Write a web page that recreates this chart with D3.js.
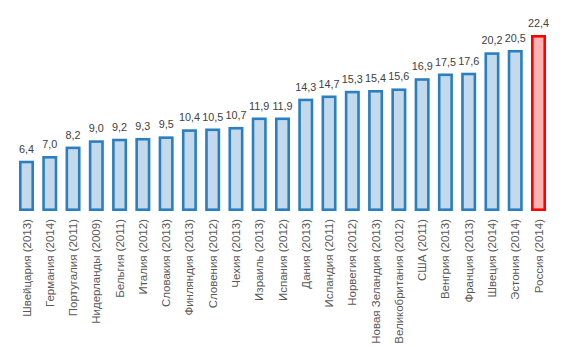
<!DOCTYPE html>
<html><head><meta charset="utf-8">
<script src="https://cdn.jsdelivr.net/npm/d3@7"></script>
<style>body{margin:0;background:#fff;}svg{display:block;}</style>
</head><body>
<svg id="c" width="565" height="347"></svg>
<script>
const categories = ["Швейцария (2013)","Германия (2014)","Португалия (2011)","Нидерланды (2009)","Бельгия (2011)","Италия (2012)","Словакия (2013)","Финляндия (2013)","Словения (2012)","Чехия (2013)","Израиль (2013)","Испания (2012)","Дания (2013)","Исландия (2011)","Норвегия (2012)","Новая Зеландия (2013)","Великобритания (2012)","США (2011)","Венгрия (2013)","Франция (2013)","Швеция (2014)","Эстония (2014)","Россия (2014)"];
const values = [6.4,7.0,8.2,9.0,9.2,9.3,9.5,10.4,10.5,10.7,11.9,11.9,14.3,14.7,15.3,15.4,15.6,16.9,17.5,17.6,20.2,20.5,22.4];
const highlight = ["Россия (2014)"];

const svg = d3.select("#c");
const sw = 2.6;
const p = 0.355;
const x = d3.scaleBand().domain(categories).range([14.86, 550.14]).paddingInner(p).paddingOuter(p/2);
const y = d3.scaleLinear().domain([0, 22.4]).range([211, 35]);
const fmt = v => d3.format(".1f")(v).replace(".", ",");

const data = categories.map((c,i)=>({c, v: values[i], hi: highlight.includes(c)}));

svg.selectAll("rect.bar").data(data).join("rect")
  .attr("class","bar")
  .attr("x", d => x(d.c) + sw/2)
  .attr("width", x.bandwidth() - sw)
  .attr("y", d => y(d.v) + sw/2)
  .attr("height", d => y(0) - y(d.v) - sw)
  .attr("fill", d => d.hi ? "#ffb3b3" : "#c5d9ed")
  .attr("stroke", d => d.hi ? "#ff0000" : "#2a7fc1")
  .attr("stroke-width", sw);

svg.selectAll("text.val").data(data).join("text")
  .attr("class","val")
  .attr("x", d => x(d.c) + x.bandwidth()/2)
  .attr("y", d => y(d.v) - 8)
  .attr("text-anchor","middle")
  .attr("font-family","Liberation Sans, Arial, sans-serif")
  .attr("font-size", 10.8)
  .attr("fill","#404040")
  .text(d => fmt(d.v));

svg.selectAll("text.lab").data(data).join("text")
  .attr("class","lab")
  .attr("transform", d => `translate(${x(d.c) + x.bandwidth()/2},219) rotate(-90)`)
  .attr("dy","0.35em")
  .attr("text-anchor","end")
  .attr("font-family","Liberation Sans, Arial, sans-serif")
  .attr("font-size", 11.5)
  .attr("fill","#595959")
  .text(d => d.c);
</script>
</body></html>
